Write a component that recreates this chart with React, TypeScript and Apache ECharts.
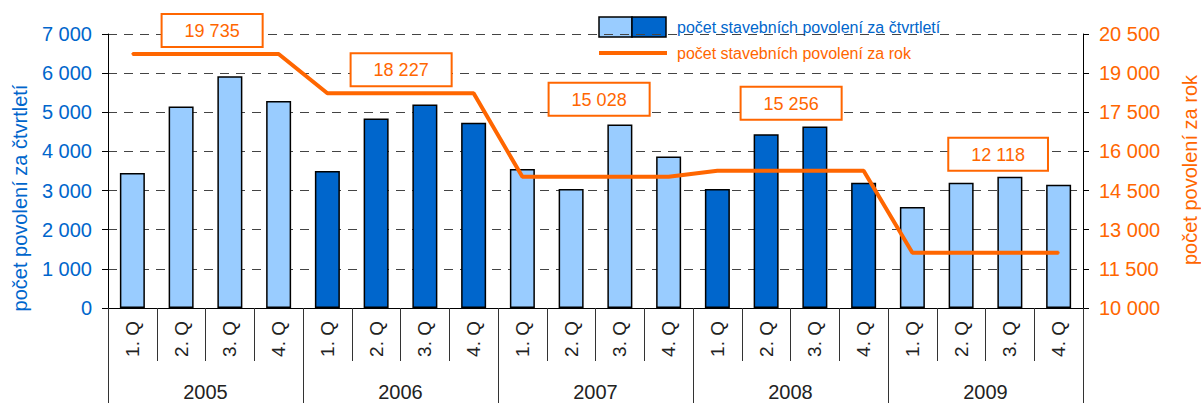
import React, { useEffect, useRef } from "react";
import * as echarts from "echarts";

const years = ["2005", "2006", "2007", "2008", "2009"];
const quarterLabels = ["1. Q", "2. Q", "3. Q", "4. Q"];
const quarterlyPermits = [
  3450, 5150, 5920, 5290,
  3500, 4840, 5200, 4730,
  3550, 3040, 4690, 3870,
  3040, 4440, 4640, 3200,
  2580, 3200, 3350, 3150,
];
const annualPermits = [19735, 18227, 15028, 15256, 12118];

const LIGHT = "#99ccff";
const DARK = "#0066cc";
const ORANGE = "#ff6600";
const FONT = "'Liberation Sans', Arial, sans-serif";

const fmt = (v: number) => String(Math.round(v)).replace(/\B(?=(\d{3})+(?!\d))/g, " ");

// label offsets (px) for the yearly value boxes
const labelOffsets: [number, number][] = [
  [31, -2], [25, -2], [28, -56], [25, -46], [37, -77],
];

export default function App() {
  const ref = useRef<HTMLDivElement>(null);
  useEffect(() => {
    if (!ref.current) return;
    const chart = echarts.init(ref.current, undefined, { renderer: "svg" });
    const categories: string[] = [];
    years.forEach(() => quarterLabels.forEach((q) => categories.push(q)));

    const barData = quarterlyPermits.map((v, i) => ({
      value: v,
      itemStyle: { color: Math.floor(i / 4) % 2 === 1 ? DARK : LIGHT },
    }));
    const lineData = quarterlyPermits.map((_, i) => {
      const y = Math.floor(i / 4);
      const v = annualPermits[y];
      if (i % 4 === 1) {
        return {
          value: v,
          label: {
            show: true,
            position: "top",
            distance: 5,
            offset: labelOffsets[y],
            formatter: () => fmt(v),
            color: ORANGE,
            fontSize: 18,
            fontFamily: FONT,
            lineHeight: 18,
            backgroundColor: "#ffffff",
            borderColor: ORANGE,
            borderWidth: 2,
            padding: [7, 22, 6, 22],
          },
        };
      }
      return { value: v };
    });

    chart.setOption({
      animation: false,
      grid: { left: 108, right: 118, top: 34, bottom: 95 },
      xAxis: [
        {
          type: "category",
          data: categories,
          position: "bottom",
          boundaryGap: true,
          axisLine: { show: true, lineStyle: { color: "#000", width: 1 } },
          axisTick: { show: true, interval: 0, length: 53, lineStyle: { color: "#333" } },
          axisLabel: {
            interval: 0,
            rotate: 90,
            margin: 13,
            fontSize: 19,
            color: "#222",
            fontFamily: FONT,
          },
        },
        {
          type: "category",
          data: years,
          position: "bottom",
          boundaryGap: true,
          axisLine: { show: false },
          axisTick: { show: true, interval: 0, length: 95, lineStyle: { color: "#333" } },
          axisLabel: { interval: 0, margin: 74, fontSize: 20, color: "#222", fontFamily: FONT },
        },
      ],
      yAxis: [
        {
          type: "value",
          min: 0,
          max: 7000,
          interval: 1000,
          axisLine: { show: true, lineStyle: { color: "#000" } },
          axisTick: { show: true, length: 6, lineStyle: { color: "#000" } },
          axisLabel: {
            margin: 16,
            fontSize: 20,
            color: DARK,
            fontFamily: FONT,
            formatter: (v: number) => fmt(v),
          },
          splitLine: { show: true, lineStyle: { color: "#444", type: [9, 7], width: 1 } },
        },
        {
          type: "value",
          min: 10000,
          max: 20500,
          alignTicks: true,
          position: "right",
          axisLine: { show: true, lineStyle: { color: "#000" } },
          axisTick: { show: true, length: 6, lineStyle: { color: "#000" } },
          axisLabel: {
            margin: 16,
            fontSize: 20,
            color: ORANGE,
            fontFamily: FONT,
            formatter: (v: number) => fmt(v),
          },
          splitLine: { show: false },
        },
      ],
      series: [
        {
          type: "bar",
          name: "počet stavebních povolení za čtvrtletí",
          xAxisIndex: 0,
          yAxisIndex: 0,
          barWidth: 25,
          data: barData,
          itemStyle: { borderColor: "#000", borderWidth: 1.5 },
        },
        {
          type: "line",
          name: "počet stavebních povolení za rok",
          xAxisIndex: 0,
          yAxisIndex: 1,
          data: lineData,
          showSymbol: true,
          symbol: "circle",
          symbolSize: 2,
          lineStyle: { color: ORANGE, width: 4 },
          itemStyle: { color: ORANGE },
          z: 5,
        },
      ],
      graphic: [
        { type: "rect", shape: { x: 599, y: 17, width: 33, height: 20 }, style: { fill: LIGHT, stroke: "#000", lineWidth: 1.5 } },
        { type: "rect", shape: { x: 632, y: 17, width: 34, height: 20 }, style: { fill: DARK, stroke: "#000", lineWidth: 1.5 } },
        {
          type: "text", x: 677, y: 27,
          style: { text: "počet stavebních povolení za čtvrtletí", fill: DARK, fontSize: 16, fontFamily: FONT, verticalAlign: "middle", align: "left" },
        },
        { type: "line", shape: { x1: 599, y1: 53, x2: 667, y2: 53 }, style: { stroke: ORANGE, lineWidth: 4 } },
        {
          type: "text", x: 677, y: 53,
          style: { text: "počet stavebních povolení za rok", fill: ORANGE, fontSize: 16, fontFamily: FONT, verticalAlign: "middle", align: "left" },
        },
        {
          type: "text", x: 20, y: 198, rotation: Math.PI / 2,
          style: { text: "počet povolení za čtvrtletí", fill: DARK, fontSize: 20, fontFamily: FONT, align: "center", verticalAlign: "middle" },
        },
        {
          type: "text", x: 1190, y: 170, rotation: Math.PI / 2,
          style: { text: "počet povolení za rok", fill: ORANGE, fontSize: 20, fontFamily: FONT, align: "center", verticalAlign: "middle" },
        },
      ],
    });
    return () => chart.dispose();
  }, []);
  return (
    <div
      ref={ref}
      style={{ position: "fixed", left: 0, top: 0, width: 1201, height: 403, background: "#fff" }}
    />
  );
}
